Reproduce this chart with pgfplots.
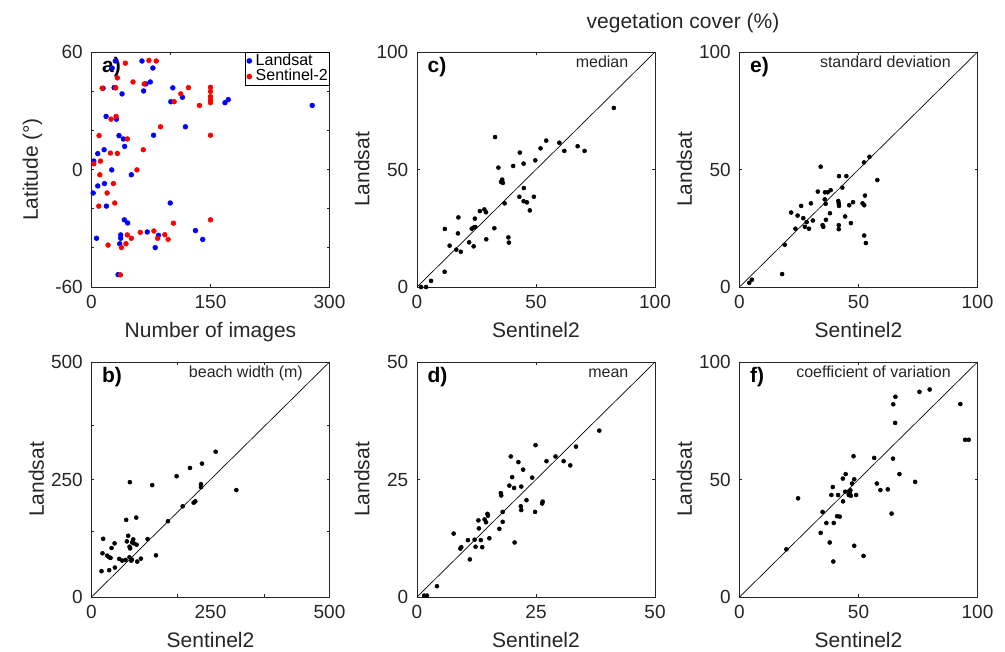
\documentclass[border=0pt]{standalone}
\usepackage{fontspec}
\setmainfont{Liberation Sans}
\usepackage{pgfplots}
\pgfplotsset{compat=1.18}
\pgfplotsset{
  panel/.style={
    scale only axis, width=178.5pt, height=176.25pt, anchor=south west,
    axis line style={line width=0.6pt, black!85},
    tick style={line width=0.6pt, black!85},
    major tick length=2pt, tick align=inside,
    ticklabel style={font=\fontsize{14.25}{16}\selectfont, text=black!85},
    xticklabel style={yshift=-3pt},
    yticklabel style={xshift=-3pt},
    label style={font=\fontsize{15.75}{18}\selectfont, text=black!85},
    xlabel style={at={(axis description cs:0.5,-0.213)}, anchor=base},
    ylabel style={at={(axis description cs:-0.20,0.5)}, anchor=base},
    clip=false,
  },
  scat/.style={only marks, mark=*, mark size=1.5pt, black},
  diag/.style={black, line width=0.5pt, no marks},
}
\newcommand{\ann}[1]{\node[anchor=base east, font=\fontsize{12}{14}\selectfont, text=black!85] at (rel axis cs:0.9076,0.934) {#1};}
\newcommand{\lett}[1]{\node[anchor=base west, font=\bfseries\fontsize{15.75}{18}\selectfont] at (rel axis cs:0.025,0.911) {#1};}
\begin{document}
\begin{tikzpicture}
\useasboundingbox (0,0) rectangle (753.75pt,488.25pt);
\node[anchor=base, font=\fontsize{15.75}{18}\selectfont, text=black!85] at (512.25pt,466.5pt) {vegetation cover (\%)};

% ---------- a) ----------
\begin{axis}[panel, at={(68.625pt,273pt)},
  xmin=0, xmax=300, ymin=-60, ymax=60,
  xtick={0,150,300}, xticklabels={0,150,300}, xtick pos=bottom,
  extra x ticks={100,200}, extra x tick labels={}, extra x tick style={xtick pos=top},
  ytick={-60,-40,...,60}, yticklabels={-60,,,0,,,60},
  ylabel style={at={(axis description cs:-0.225,0.5)}},
  xlabel={Number of images}, ylabel={Latitude (°)},
  legend style={at={(rel axis cs:1,1)}, anchor=north east, draw=black, line width=0.6pt,
    font=\fontsize{12}{12}\selectfont, inner sep=0.5pt, cells={anchor=west},
    nodes={inner sep=0.5pt, text height=8.5pt, text depth=2.25pt}},
  legend image code/.code={\path (0cm,0cm) (0.22cm,0cm); \draw[#1] plot coordinates {(0.08cm,0cm)};},
]
\addplot[only marks, mark=*, mark size=1.8pt, color={rgb,1:red,0;green,0;blue,1}] coordinates {
(30,55.4) (26,51.8) (63.6,55.4) (77.4,51.8) (74.1,44.7) (68.6,43.7) (65.7,40.1) (14.6,41.5) (28.5,41.8) (30.1,41.8) (38.5,38.6) (102.5,41.7) (100,34.6) (114.6,36.9) (168.2,34.1) (172.4,35.7) (278.2,32.7) (18.4,27.1) (31.4,25.7) (34.7,17.3) (40.2,15.6) (41.8,11.8) (78.2,17.5) (118.4,21.8) (15.9,10.1) (7.9,8.1) (2.9,4.3) (2.5,3.3) (25.5,-0.2) (50.2,-2.7) (7.9,-8.4) (16.3,-7.2) (2.1,-12) (18.8,-18.7) (99.2,-17.1) (41.4,-25.7) (45.6,-27.3) (6.3,-35.1) (36.8,-33.4) (36.8,-35.1) (35.6,-37.9) (70.3,-31.9) (84.5,-33.6) (80.3,-39.9) (131,-31.2) (140.2,-35.7) (33.5,-53.7)
};
\addlegendentry{Landsat}
\addplot[only marks, mark=*, mark size=1.8pt, color={rgb,1:red,1;green,0;blue,0}] coordinates {
(42.7,54.3) (72.4,55.7) (81.6,55.4) (32.6,46.8) (52.3,44.7) (66.5,43.7) (13.4,41.5) (30.5,41.7) (122.2,41.8) (150,42) (150,39.9) (150,37.2) (150,35.5) (150,34.1) (112.6,38.6) (104.2,34.6) (136,32.7) (31,27.1) (24.7,25.7) (87,21.8) (150,17.5) (9.6,17.3) (45.2,15.6) (65.3,10.1) (23.8,8.4) (32.6,8.2) (11.3,4.3) (2.9,2.9) (57.3,-0.2) (10.5,-2.7) (27.6,-7.2) (19.7,-12) (9.2,-18.7) (29.3,-17.1) (150,-25.7) (103.3,-27.4) (45.2,-33.4) (50.2,-35.1) (61.5,-32.1) (78.7,-31.4) (83.3,-35.1) (92.4,-33.3) (96.6,-35.7) (20.9,-38.6) (43.5,-37.9) (37.7,-39.8) (36.4,-53.8)
};
\addlegendentry{Sentinel-2}
\lett{a)}
\end{axis}

% ---------- b) ----------
\begin{axis}[panel, at={(68.625pt,40.5pt)},
  xmin=0, xmax=500, ymin=0, ymax=500,
  xtick={0,250,500}, xticklabels={0,250,500},
  ytick={0,250,500}, yticklabels={0,250,500},
  major tick length=0pt,
  extra x ticks={181,363}, extra y ticks={139,251,365},
  extra x tick labels={}, extra y tick labels={},
  extra tick style={major tick length=2pt},
  xlabel={Sentinel2}, ylabel={Landsat},
]
\addplot[diag] coordinates {(0,0) (500,500)};
\addplot[scat] coordinates {
(21,54.9) (37.2,57) (49.1,62.7) (24.5,123.9) (23.1,93) (33,88) (37.2,84.5) (40,83.1) (42.1,104.2) (48.4,114.1) (58.2,81) (64.5,77.5) (71.5,78.9) (79.9,84.5) (84.8,79.6) (83.5,77.5) (96.1,75.4) (103.8,81.7) (72.9,164.1) (77.1,130.3) (74.3,118.3) (79.9,107) (81.3,103.5) (85.5,116.2) (87.7,122.5) (89.1,114.1) (94.7,111.3) (80.6,244.4) (94,169) (117.8,123.2) (127.6,238) (135.4,88.7) (160.6,161.3) (178.8,257) (191.5,193) (206.9,274.6) (214.6,200.7) (218.1,203.5) (230,233.8) (230,240.1) (232.1,283.8) (260.8,309.2) (304.3,227.5)
};
\ann{beach width (m)}
\lett{b)}
\end{axis}

% ---------- c) ----------
\begin{axis}[panel, at={(312.75pt,273pt)},
  xmin=0, xmax=100, ymin=0, ymax=100,
  xtick={0,50,100}, xticklabels={0,50,100},
  ytick={0,50,100}, yticklabels={0,50,100},
  xlabel={Sentinel2}, ylabel={Landsat},
]
\addplot[diag] coordinates {(0,0) (100,100)};
\addplot[scat] coordinates {
(1.7,0) (3.8,0) (5.9,2.6) (11.6,6.5) (11.7,24.7) (13.7,17.6) (16.5,15.9) (17.2,22.8) (17.4,29.6) (18.4,15) (21.9,19) (23,24.8) (24,25.4) (24.3,29.1) (24.5,25.5) (23.8,17.3) (26.4,32.3) (28.3,33) (29,31.8) (29.1,20.3) (32.5,25) (32.8,63.8) (34.2,50.8) (35.3,44.7) (35.8,45.7) (36.1,44.3) (36.8,35.6) (38.4,21.1) (38.6,18.9) (40.4,51.5) (43,38.4) (43.2,57.2) (44.8,52.5) (44.9,42.1) (44.8,36.5) (46.2,36) (47.4,32.6) (49.1,38.4) (49.7,53.9) (51.9,59) (54.3,62.3) (59.8,61.4) (61.9,57.9) (67.5,59.9) (70.4,57.9) (82.7,76.2)
};
\ann{median}
\lett{c)}
\end{axis}

% ---------- d) ----------
\begin{axis}[panel, at={(312.75pt,40.5pt)},
  xmin=0, xmax=50, ymin=0, ymax=50,
  xtick={0,25,50}, xticklabels={0,25,50},
  ytick={0,25,50}, yticklabels={0,25,50},
  xlabel={Sentinel2}, ylabel={Landsat},
]
\addplot[diag] coordinates {(0,0) (50,50)};
\addplot[scat] coordinates {
(1.5,0.3) (2.1,0.3) (4.2,2.3) (7.7,13.5) (9.1,10.3) (9.3,10.6) (10.7,12.1) (11.1,8) (12.1,12.2) (12.3,10.7) (12.9,16.3) (13,14.6) (13.4,12.1) (13.7,10.6) (14.2,16.5) (14.5,15.9) (14.8,17.7) (14.9,17.3) (15.2,12.5) (17.3,14.5) (17.6,22.1) (17.7,21.6) (18,18.1) (18,16) (19.4,23.7) (19.7,29.9) (20,25.5) (20.4,23.2) (20.5,11.6) (21.3,28.7) (21.9,23.5) (21.8,19.3) (21.9,18.5) (22.3,27.1) (23,20.6) (24.2,25.4) (24.8,18.1) (24.9,32.3) (26.3,19.9) (26.4,20.3) (27.2,28.9) (29.1,29.9) (30.8,28.9) (32.2,28) (33.4,32) (38.3,35.4)
};
\ann{mean}
\lett{d)}
\end{axis}

% ---------- e) ----------
\begin{axis}[panel, at={(554.625pt,273pt)},
  xmin=0, xmax=100, ymin=0, ymax=100,
  xtick={0,50,100}, xticklabels={0,50,100},
  ytick={0,50,100}, yticklabels={0,50,100},
  xlabel={Sentinel2}, ylabel={Landsat},
]
\addplot[diag] coordinates {(0,0) (100,100)};
\addplot[scat] coordinates {
(4.1,1.8) (5.2,3.1) (17.9,5.5) (19,18) (21.7,31.7) (23.5,24.8) (24.4,30.4) (25.9,34.5) (26.8,29.3) (27.5,25.6) (28.2,27.6) (29.2,24.8) (30,35.6) (30.8,28.3) (32.9,40.6) (34.1,51.2) (34.9,26.3) (35.2,25.6) (35.8,37.3) (36.2,35.4) (36.3,28.6) (35.9,40.3) (37,40.3) (38,31.4) (38.3,41.2) (41.8,47.2) (41.5,36.6) (41.7,35.6) (41.8,34.5) (41.7,26.3) (41.7,24.6) (43.2,42.3) (44.4,30) (44.9,47.2) (46.1,34.8) (46.8,27.2) (47.7,36.1) (52.3,53) (52.7,38.9) (51.7,35.6) (52.4,34.8) (52.4,21.9) (53.1,18.7) (54.6,55.4) (57.9,45.5)
};
\ann{standard deviation}
\lett{e)}
\end{axis}

% ---------- f) ----------
\begin{axis}[panel, at={(554.625pt,40.5pt)},
  xmin=0, xmax=100, ymin=0, ymax=100,
  xtick={0,50,100}, xticklabels={0,50,100},
  ytick={0,50,100}, yticklabels={0,50,100},
  xlabel={Sentinel2}, ylabel={Landsat},
]
\addplot[diag] coordinates {(0,0) (100,100)};
\addplot[scat] coordinates {
(19.7,20.3) (24.6,42) (34.9,36.2) (34.1,27.3) (36.5,31.5) (37.9,23.2) (38.6,43.4) (39.2,46.8) (39.4,15.1) (39.6,31.5) (41,34.4) (41.4,43.4) (42.1,34.2) (43.4,50.4) (43.5,40.7) (44.4,44.8) (44.6,52.3) (45.9,43.4) (46.2,45.1) (46.3,44.4) (46.6,45.4) (46.8,43.1) (47.3,48.3) (47.9,59.9) (48.2,21.8) (48.2,50.1) (49,43.4) (52.1,17.5) (56.6,59.2) (57.7,48.3) (59.2,45.5) (62.3,45.8) (63.9,35.5) (64.5,58.9) (64.6,82) (65.5,85.2) (65.4,74.1) (67.2,52.3) (73.8,49) (75.6,87.3) (79.9,88.3) (92.8,82.1) (94.8,66.9) (96.3,66.9)
};
\ann{coefficient of variation}
\lett{f)}
\end{axis}
\end{tikzpicture}
\end{document}
